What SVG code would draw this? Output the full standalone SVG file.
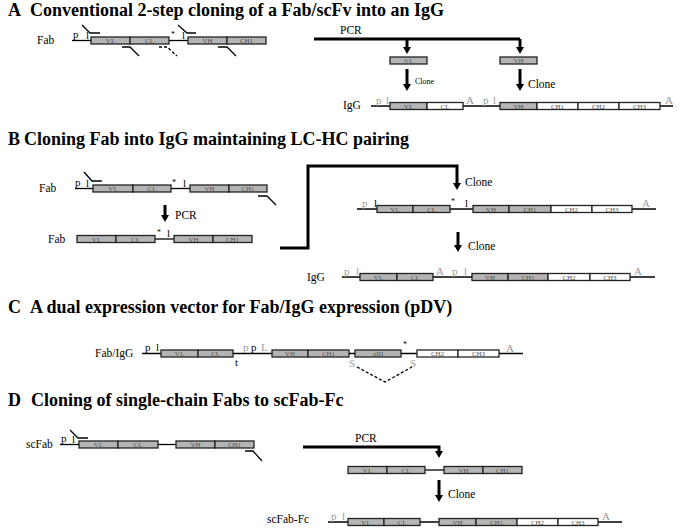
<svg xmlns="http://www.w3.org/2000/svg" width="685" height="528" viewBox="0 0 685 528">
<defs>
<style>
text{font-family:"Liberation Serif","Times New Roman",serif;}
.tt{font-size:18px;font-weight:bold;fill:#000;}
.lb{font-size:11.5px;fill:#000;}
.sm{font-size:8px;fill:#000;}
.gr{font-size:11px;fill:#999;}
.k{font-size:11px;fill:#000;}
.bl{font-size:7px;fill:#555;text-anchor:middle;}
.g{fill:#b4b4b4;stroke:#222;stroke-width:1.3;}
.w{fill:#fff;stroke:#222;stroke-width:1.3;}
.ln{stroke:#000;stroke-width:1.3;fill:none;}
.pr{stroke:#000;stroke-width:1.3;fill:none;}
.th{stroke:#000;stroke-width:3;fill:none;}
.ds{stroke:#000;stroke-width:1.3;fill:none;stroke-dasharray:3,2;}
</style>
<marker id="ah" markerUnits="userSpaceOnUse" markerWidth="9" markerHeight="9" refX="1" refY="4.5" orient="auto">
<path d="M0,0.5 L7,4.5 L0,8.5 z" fill="#000"/>
</marker>
</defs>
<rect width="685" height="528" fill="#fff"/>

<!-- Titles -->
<g id="titles">
<text class="tt" x="8" y="16">A</text><text class="tt" x="30" y="16">Conventional 2-step cloning of a Fab/scFv into an IgG</text>
<text class="tt" x="8" y="145">B</text><text class="tt" x="24" y="145">Cloning Fab into IgG maintaining LC-HC pairing</text>
<text class="tt" x="8" y="313">C</text><text class="tt" x="30" y="313">A dual expression vector for Fab/IgG expression (pDV)</text>
<text class="tt" x="8" y="406">D</text><text class="tt" x="31" y="406">Cloning of single-chain Fabs to scFab-Fc</text>
</g>

<!-- Section A -->
<g id="A-fab">
<text class="lb" x="37" y="44">Fab</text>
<line class="ln" x1="72" y1="40.5" x2="91" y2="40.5"/>
<line class="ln" x1="169" y1="40.5" x2="188" y2="40.5"/>
<text class="k" x="73" y="38">p</text><text class="k" x="86" y="39">l</text>
<rect class="g" x="91" y="37" width="39" height="7"/><rect class="g" x="130" y="37" width="39" height="7"/>
<text class="bl" x="110.5" y="43">VL</text><text class="bl" x="149.5" y="43">CL</text>
<text class="sm" x="171" y="37">*</text>
<text class="k" x="182" y="39">l</text>
<rect class="g" x="188" y="37" width="39" height="7"/><rect class="g" x="227" y="37" width="39" height="7"/>
<text class="bl" x="207.5" y="43">VH</text><text class="bl" x="246.5" y="43">CH1</text>
<polyline class="pr" points="82,25 90,33 100,33"/>
<polyline class="pr" points="178,25 187,33 196,33"/>
<polyline class="pr" points="122,47 130,47 139,56"/>
<polyline class="pr" points="218,47 227,47 236,56"/>
<polyline class="ds" points="159,47 167,47 177,56"/>
</g>
<g id="A-vl">
<rect class="g" x="390" y="57" width="37" height="7"/><text class="bl" x="408.5" y="63">VL</text>
</g>
<g id="A-vh">
<rect class="g" x="500" y="57" width="37" height="7"/><text class="bl" x="518.5" y="63">VH</text>
</g>
<g id="A-igg">
<text class="lb" x="343" y="109">IgG</text>
<line class="ln" x1="371" y1="106" x2="673" y2="106"/>
<text class="gr" x="376" y="104">p</text><text class="gr" x="386" y="104">l</text>
<text class="gr" x="466" y="104">A</text>
<text class="gr" x="483" y="104">p</text><text class="gr" x="493" y="104">l</text>
<text class="gr" x="665" y="104">A</text>
<rect class="g" x="390" y="102.5" width="37" height="7"/><rect class="w" x="427" y="102.5" width="36" height="7"/>
<rect class="g" x="500" y="102.5" width="37" height="7"/><rect class="w" x="537" y="102.5" width="41" height="7"/>
<rect class="w" x="578" y="102.5" width="41" height="7"/><rect class="w" x="619" y="102.5" width="41" height="7"/>
<text class="bl" x="408.5" y="108.5">VL</text><text class="bl" x="445" y="108.5">CL</text>
<text class="bl" x="518.5" y="108.5">VH</text><text class="bl" x="557.5" y="108.5">CH1</text>
<text class="bl" x="598.5" y="108.5">CH2</text><text class="bl" x="639.5" y="108.5">CH3</text>
</g>

<!-- Section B -->
<g id="B-fab1">
<text class="lb" x="39" y="192">Fab</text>
<line class="ln" x1="75" y1="188.5" x2="93" y2="188.5"/>
<line class="ln" x1="171" y1="188.5" x2="190" y2="188.5"/>
<text class="k" x="75" y="186">p</text><text class="k" x="86" y="187">l</text>
<rect class="g" x="93" y="185" width="40" height="7"/><rect class="g" x="133" y="185" width="38" height="7"/>
<text class="bl" x="113" y="191">VL</text><text class="bl" x="152" y="191">CL</text>
<text class="sm" x="172" y="185">*</text><text class="k" x="183" y="187">l</text>
<rect class="g" x="190" y="185" width="39" height="7"/><rect class="g" x="229" y="185" width="38" height="7"/>
<text class="bl" x="209.5" y="191">VH</text><text class="bl" x="248" y="191">CH1</text>
<polyline class="pr" points="84,172 92,181 102,181"/>
<polyline class="pr" points="258,196 267,196 276,205"/>
</g>
<g id="B-fab2">
<text class="lb" x="48" y="243">Fab</text>
<line class="ln" x1="155" y1="239" x2="174" y2="239"/>
<rect class="g" x="77" y="235.5" width="39" height="7"/><rect class="g" x="116" y="235.5" width="39" height="7"/>
<text class="bl" x="96.5" y="241.5">VL</text><text class="bl" x="135.5" y="241.5">CL</text>
<text class="sm" x="157" y="235">*</text><text class="k" x="167" y="237">l</text>
<rect class="g" x="174" y="235.5" width="39" height="7"/><rect class="g" x="213" y="235.5" width="39" height="7"/>
<text class="bl" x="193.5" y="241.5">VH</text><text class="bl" x="232.5" y="241.5">CH1</text>
</g>
<g id="B-mid">
<line class="ln" x1="357" y1="209" x2="656" y2="209"/>
<text class="gr" x="362" y="207">p</text><text class="k" x="374" y="207">l</text>
<rect class="g" x="377" y="205.5" width="36" height="7"/><rect class="g" x="413" y="205.5" width="37" height="7"/>
<text class="bl" x="395" y="211.5">VL</text><text class="bl" x="431.5" y="211.5">CL</text>
<text class="sm" x="451" y="204">*</text><text class="k" x="465" y="207">l</text>
<rect class="g" x="473" y="205.5" width="36" height="7"/><rect class="g" x="509" y="205.5" width="42" height="7"/>
<rect class="w" x="551" y="205.5" width="41" height="7"/><rect class="w" x="592" y="205.5" width="40" height="7"/>
<text class="bl" x="491" y="211.5">VH</text><text class="bl" x="530" y="211.5">CH1</text>
<text class="bl" x="571.5" y="211.5">CH2</text><text class="bl" x="612" y="211.5">CH3</text>
<text class="gr" x="642" y="207">A</text>
</g>
<g id="B-igg">
<text class="lb" x="307" y="281">IgG</text>
<line class="ln" x1="342" y1="277" x2="655" y2="277"/>
<text class="gr" x="344" y="275">p</text><text class="gr" x="356" y="275">l</text>
<rect class="g" x="360" y="273.5" width="37" height="7"/><rect class="g" x="397" y="273.5" width="36" height="7"/>
<text class="bl" x="378.5" y="279.5">VL</text><text class="bl" x="415" y="279.5">CL</text>
<text class="gr" x="436" y="275">A</text>
<text class="gr" x="452" y="275">p</text><text class="gr" x="464" y="275">l</text>
<rect class="g" x="472" y="273.5" width="36" height="7"/><rect class="g" x="508" y="273.5" width="40" height="7"/>
<rect class="w" x="548" y="273.5" width="42" height="7"/><rect class="w" x="590" y="273.5" width="40" height="7"/>
<text class="bl" x="490" y="279.5">VH</text><text class="bl" x="528" y="279.5">CH1</text>
<text class="bl" x="569" y="279.5">CH2</text><text class="bl" x="610" y="279.5">CH3</text>
<text class="gr" x="634" y="275">A</text>
</g>

<!-- Section C -->
<g id="C-pdv">
<text class="lb" x="95" y="357">Fab/IgG</text>
<line class="ln" x1="142" y1="353.5" x2="523" y2="353.5"/>
<text class="k" x="145" y="351">p</text><text class="k" x="156" y="351">l</text>
<rect class="g" x="161" y="350" width="37" height="7"/><rect class="g" x="198" y="350" width="35" height="7"/>
<text class="bl" x="179.5" y="356">VL</text><text class="bl" x="215.5" y="356">CL</text>
<text class="k" x="235" y="366">t</text>
<text class="gr" x="243" y="351">p</text><text class="k" x="251" y="351">p</text><text class="gr" x="261" y="351">L</text>
<rect class="g" x="272" y="350" width="36" height="7"/><rect class="g" x="308" y="350" width="41" height="7"/>
<text class="bl" x="290" y="356">VH</text><text class="bl" x="328.5" y="356">CH1</text>
<rect class="g" x="355" y="350" width="46" height="7"/><text class="bl" x="378" y="356">gIII</text>
<text class="sm" x="403" y="347">*</text>
<text class="gr" x="349" y="367">S</text><text class="gr" x="410" y="367">S</text>
<rect class="w" x="417" y="350" width="41" height="7"/><rect class="w" x="458" y="350" width="41" height="7"/>
<text class="bl" x="437.5" y="356">CH2</text><text class="bl" x="478.5" y="356">CH3</text>
<text class="gr" x="506" y="352">A</text>
<polyline class="ds" points="357,367 385,382 412,367"/>
</g>

<!-- Section D -->
<g id="D-scfab">
<text class="lb" x="26" y="448">scFab</text>
<line class="ln" x1="60" y1="444.5" x2="79" y2="444.5"/>
<line class="ln" x1="158" y1="444.5" x2="176" y2="444.5"/>
<text class="k" x="61" y="442">p</text><text class="k" x="72" y="443">l</text>
<rect class="g" x="79" y="441" width="39" height="7"/><rect class="g" x="118" y="441" width="40" height="7"/>
<text class="bl" x="98.5" y="447">VL</text><text class="bl" x="138" y="447">CL</text>
<rect class="g" x="176" y="441" width="39" height="7"/><rect class="g" x="215" y="441" width="39" height="7"/>
<text class="bl" x="195.5" y="447">VH</text><text class="bl" x="234.5" y="447">CH1</text>
<polyline class="pr" points="70,430 78,438 88,438"/>
<polyline class="pr" points="245,451 253,451 262,461"/>
</g>
<g id="D-pcr">
<line class="ln" x1="425" y1="470" x2="444" y2="470"/>
<rect class="g" x="348" y="466.5" width="39" height="7"/><rect class="g" x="387" y="466.5" width="38" height="7"/>
<text class="bl" x="367.5" y="472.5">VL</text><text class="bl" x="406" y="472.5">CL</text>
<rect class="g" x="444" y="466.5" width="39" height="7"/><rect class="g" x="483" y="466.5" width="39" height="7"/>
<text class="bl" x="463.5" y="472.5">VH</text><text class="bl" x="502.5" y="472.5">CH1</text>
</g>
<g id="D-scfabfc">
<text class="lb" x="267" y="523">scFab-Fc</text>
<line class="ln" x1="328" y1="522" x2="622" y2="522"/>
<text class="gr" x="331" y="520">p</text><text class="gr" x="342" y="520">l</text>
<rect class="g" x="348" y="518.5" width="36" height="7"/><rect class="g" x="384" y="518.5" width="36" height="7"/>
<text class="bl" x="366" y="524.5">VL</text><text class="bl" x="402" y="524.5">CL</text>
<rect class="g" x="439" y="518.5" width="37" height="7"/><rect class="g" x="476" y="518.5" width="41" height="7"/>
<rect class="w" x="517" y="518.5" width="41" height="7"/><rect class="w" x="558" y="518.5" width="40" height="7"/>
<text class="bl" x="457.5" y="524.5">VH</text><text class="bl" x="496.5" y="524.5">CH1</text>
<text class="bl" x="537.5" y="524.5">CH2</text><text class="bl" x="578" y="524.5">CH3</text>
<text class="gr" x="602" y="520">A</text>
</g>

<!-- Connectors -->
<g id="connectors">
<text class="lb" x="340" y="34">PCR</text>
<polyline class="th" points="314,39 520,39"/>
<line class="th" x1="407" y1="39" x2="407" y2="48" marker-end="url(#ah)"/>
<line class="th" x1="520" y1="39" x2="520" y2="48" marker-end="url(#ah)"/>
<line class="th" x1="407" y1="69" x2="407" y2="85" marker-end="url(#ah)"/>
<line class="th" x1="520" y1="69" x2="520" y2="85" marker-end="url(#ah)"/>
<text class="sm" x="415" y="84">Clone</text>
<text class="lb" x="528" y="88">Clone</text>

<line class="th" x1="165" y1="205" x2="165" y2="216" marker-end="url(#ah)"/>
<text class="lb" x="175" y="219">PCR</text>
<polyline class="th" points="280,248 308,248 308,166 457,166 457,184" marker-end="url(#ah)"/>
<text class="lb" x="465" y="186">Clone</text>
<line class="th" x1="458" y1="232" x2="458" y2="246" marker-end="url(#ah)"/>
<text class="lb" x="468" y="250">Clone</text>

<text class="lb" x="355" y="442">PCR</text>
<polyline class="th" points="303,447 439,447 439,452" marker-end="url(#ah)"/>
<line class="th" x1="439" y1="480" x2="439" y2="496" marker-end="url(#ah)"/>
<text class="lb" x="448" y="498">Clone</text>
</g>
</svg>
